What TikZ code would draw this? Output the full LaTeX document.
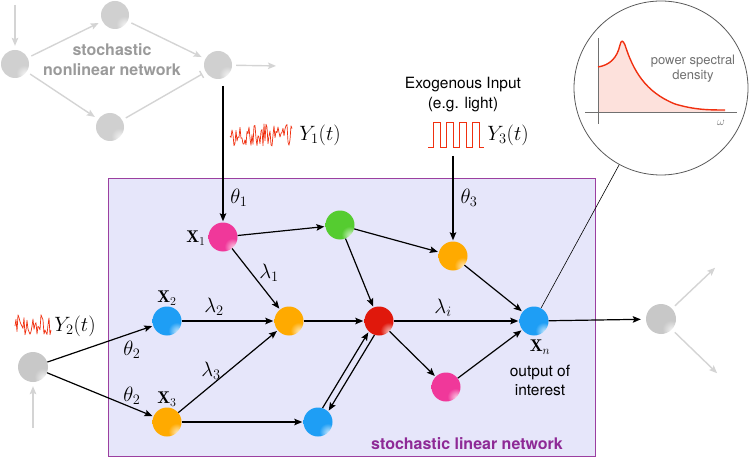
\documentclass[tikz,border=0pt]{standalone}
\usepackage{fontspec}
\newfontfamily\hv{TeX Gyre Heros}
\usetikzlibrary{arrows.meta,calc}
\definecolor{boxfill}{HTML}{E6E6FA}
\definecolor{boxline}{HTML}{9B3FA0}
\definecolor{boxtext}{HTML}{8E2A96}
\definecolor{cpink}{HTML}{F0389A}
\definecolor{cgreen}{HTML}{55CC30}
\definecolor{corange}{HTML}{FFAA00}
\definecolor{cblue}{HTML}{1E9EF5}
\definecolor{cred}{HTML}{E0180C}
\definecolor{cgray}{HTML}{C8C8C8}
\definecolor{cgrayl}{HTML}{D0D0D0}
\definecolor{grayarrow}{HTML}{D4D4D4}
\definecolor{graytext}{HTML}{9A9A9A}
\definecolor{noisered}{HTML}{F03010}
\definecolor{psdfill}{HTML}{FDE1DC}
\definecolor{axisgray}{HTML}{707070}
\colorlet{ballc}{gray}
\pgfdeclareradialshading[ballc]{myballshade}{\pgfqpoint{20bp}{-20bp}}{color(0bp)=(ballc!3!white); color(5bp)=(ballc!45!white); color(14bp)=(ballc); color(40bp)=(ballc); color(75bp)=(ballc!85!black)}
\tikzset{
  ball/.style={circle, minimum size=29pt, inner sep=0pt, shading=myballshade, /utils/exec={\colorlet{ballc}{#1}}},
  edge/.style={line width=1.2pt, -{Stealth[length=8pt,width=6.5pt,inset=1.5pt]}, shorten >=1pt},
  garrow/.style={grayarrow, line width=1.4pt, -{Stealth[length=8pt,width=6.5pt,inset=1.5pt]}, shorten >=4pt, shorten <=4pt},
  mlbl/.style={font=\fontsize{20}{24}\selectfont, inner sep=0pt},
  xlbl/.style={font=\fontsize{17}{20}\selectfont, inner sep=0pt},
  stxt/.style={font=\hv\fontsize{15.5}{19}\selectfont, align=center, inner sep=0pt},
  noise/.style={noisered, line width=0.7pt, line join=round},
}
\begin{document}
\begin{tikzpicture}[x=1pt,y=-1pt]
\useasboundingbox (0,0) rectangle (749,457);
% box
\node[draw=boxline, fill=boxfill, line width=1.2pt, minimum width=487pt, minimum height=278pt, anchor=north west, inner sep=0pt] (box) at (108,178) {};
\node[font=\hv\bfseries\fontsize{16}{20}\selectfont, text=boxtext, inner sep=0pt] (boxlabel) at (467,444) {stochastic linear network};
% top nonlinear network
\node[ball=cgrayl, minimum size=28pt] (na) at (15,64) {};
\node[ball=cgrayl, minimum size=28pt] (nb) at (115,15) {};
\node[ball=cgrayl, minimum size=28pt] (nc) at (110,127) {};
\node[ball=cgrayl, minimum size=28pt] (nd) at (218,65) {};
\coordinate (na0) at (15,1);
\coordinate (nd1) at (280,66);
\draw[garrow] (na0) -- (na);
\draw[garrow] (na) -- (nb);
\draw[garrow] (na) -- (nc);
\draw[garrow] (nb) -- (nd);
\draw[garrow, -{Bar[width=8pt]}] (nc) -- (nd);
\draw[garrow] (nd) -- (nd1);
\node[font=\hv\bfseries\fontsize{16}{20}\selectfont, text=graytext, align=center, inner sep=0pt] (nltext) at (112,60) {stochastic\\nonlinear network};
% linear network nodes
\node[ball=cpink] (x1) at (223,237) {};
\node[ball=cgreen] (g) at (340,225) {};
\node[ball=corange] (o3) at (453,256) {};
\node[ball=cblue] (x2) at (167,321) {};
\node[ball=corange] (om) at (289,321) {};
\node[ball=cred] (rd) at (379,321) {};
\node[ball=cblue] (xn) at (534,321) {};
\node[ball=cpink] (pk) at (446,387) {};
\node[ball=corange] (x3) at (167,422) {};
\node[ball=cblue] (bb) at (318,422) {};
\node[ball=cgray, minimum size=30pt] (gl) at (33,367) {};
\node[ball=cgray, minimum size=30pt] (gr) at (661,319) {};
% edges
\coordinate (t1) at (223,86);
\coordinate (t3) at (453,156);
\draw[edge] (t1) -- (x1);
\draw[edge] (t3) -- (o3);
\draw[edge] (x1) -- (g);
\draw[edge] (x1) -- (om);
\draw[edge] (x2) -- (om);
\draw[edge] (x3) -- (om);
\draw[edge] (x3) -- (bb);
\draw[edge] (om) -- (rd);
\draw[edge] (g) -- (rd);
\draw[edge] (g) -- (o3);
\draw[edge] (o3) -- (xn);
\draw[edge] (rd) -- (xn);
\draw[edge] (rd) -- (pk);
\draw[edge] (pk) -- (xn);
\draw[edge] (bb.72) -- (rd.226);
\draw[edge] (rd.252) -- (bb.46);
\draw[edge] (gl) -- (x2);
\draw[edge] (gl) -- (x3);
\draw[edge, shorten >=5pt] (xn) -- (gr);
% gray arrows
\coordinate (gl0) at (33,432);
\coordinate (gr1) at (718,265);
\coordinate (gr2) at (720,376);
\draw[garrow] (gl0) -- (gl);
\draw[garrow] (gr) -- (gr1);
\draw[garrow] (gr) -- (gr2);
% labels
\node[xlbl] (lx1) at (196,238) {$\mathbf{X}_{1}$};
\node[xlbl] (lx2) at (167,298) {$\mathbf{X}_{2}$};
\node[xlbl] (lx3) at (167,399) {$\mathbf{X}_{3}$};
\node[xlbl] (lxn) at (540,347) {$\mathbf{X}_{n}$};
\node[mlbl] (th1) at (239,198) {$\theta_1$};
\node[mlbl] (th3) at (469,198) {$\theta_3$};
\node[mlbl] (th2a) at (132,350) {$\theta_2$};
\node[mlbl] (th2b) at (132,396) {$\theta_2$};
\node[mlbl] (la1) at (269,273) {$\lambda_1$};
\node[mlbl] (la2) at (214,307) {$\lambda_2$};
\node[mlbl] (la3) at (211,371) {$\lambda_3$};
\node[mlbl] (lai) at (443,308) {$\lambda_i$};
\node[mlbl] (y1) at (320,135) {$Y_1(t)$};
\node[mlbl] (y3) at (508,135) {$Y_3(t)$};
\node[mlbl] (y2) at (75,326) {$Y_2(t)$};
\node[stxt] (exo) at (463,95) {Exogenous Input\\[1pt](e.g. light)};
\node[stxt] (ooi) at (540,380) {output of\\interest};
% noise signals
\pgfmathsetseed{7}
\draw[noise] (230,136) \foreach \i in {1,...,62} {-- ({230+\i},{135+11*rand})};
\draw[noise] (15,326) \foreach \i in {1,...,36} {-- ({15+\i},{325+11*rand})};
% square wave
\draw[noisered, line width=1pt] (428,148) -- (433,148) -- (433,123) -- (440,123) -- (440,148) -- (446,148) -- (446,123) -- (453,123) -- (453,148) -- (459,148) -- (459,123) -- (466,123) -- (466,148) -- (472,148) -- (472,123) -- (479,123) -- (479,148) -- (484,148);
% magnifier
\node[circle, draw=axisgray!80!black, line width=0.8pt, minimum size=174pt, inner sep=0pt] (mag) at (661,88) {};
\draw[line width=0.6pt] (xn) -- (mag);
\fill[psdfill] (598,67) .. controls (610,65) and (617,58) .. (620,45) .. controls (621,40) and (623,40) .. (625,45) .. controls (633,70) and (645,92) .. (675,104) .. controls (695,110) and (710,110) .. (725,110) -- (725,112) -- (598,112) -- cycle;
\draw[axisgray, line width=0.6pt] (585,112) -- (737,112);
\draw[axisgray, line width=0.6pt] (598,38) -- (598,124);
\draw[noisered, line width=1.4pt] (598,67) .. controls (610,65) and (617,58) .. (620,45) .. controls (621,40) and (623,40) .. (625,45) .. controls (633,70) and (645,92) .. (675,104) .. controls (695,110) and (710,110) .. (725,110);
\node[font=\fontsize{13}{15}\selectfont, text=axisgray, inner sep=0pt] (om1) at (721,123) {$\omega$};
\node[font=\hv\fontsize{13}{15}\selectfont, text=axisgray, align=center, inner sep=0pt] (psd) at (693,69) {power spectral\\density};
\end{tikzpicture}
\end{document}
